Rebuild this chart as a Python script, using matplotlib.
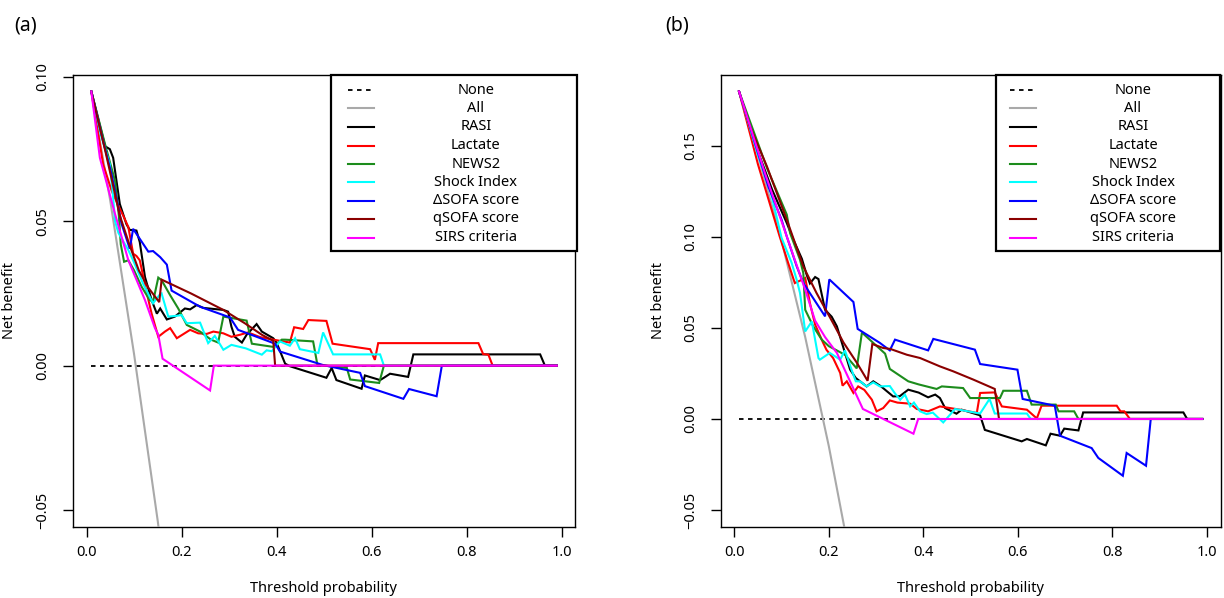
import matplotlib
matplotlib.use("Agg")
import matplotlib.pyplot as plt
from matplotlib.patches import Rectangle
from matplotlib.lines import Line2D

plt.rcParams['font.family'] = ['Noto Sans', 'DejaVu Sans']

# ---------------- data ----------------
SERIES = ["None", "All", "RASI", "Lactate", "NEWS2", "Shock Index",
          "ΔSOFA score", "qSOFA score", "SIRS criteria"]
COLORS = ["black", "#A9A9A9", "black", "#FF0000", "#1C8C1C", "#00FFFF",
          "#0000FF", "#8B0000", "#FF00FF"]

X_TICKS = [0.0, 0.2, 0.4, 0.6, 0.8, 1.0]
Y_TICKS_A = [-0.05, 0.00, 0.05, 0.10]
Y_TICKS_B = [-0.05, 0.00, 0.05, 0.10, 0.15]

# ---- panel (a) ----
A_NONE = [(0.01, 0.0), (0.99, 0.0)]
A_ALL = [(0.01, 0.095), (0.05, 0.057), (0.10, 0.004), (0.15, -0.054), (0.20, -0.120)]
A_RASI = [(0.01, 0.095), (0.039, 0.076), (0.049, 0.075), (0.056, 0.072), (0.063, 0.064),
          (0.070, 0.056), (0.084, 0.049), (0.091, 0.047), (0.098, 0.047), (0.105, 0.0468),
          (0.112, 0.0428), (0.123, 0.0307), (0.137, 0.0227), (0.148, 0.018), (0.155, 0.0198),
          (0.169, 0.016), (0.186, 0.017), (0.207, 0.0198), (0.218, 0.0195), (0.232, 0.021),
          (0.246, 0.020), (0.288, 0.0193), (0.298, 0.0187), (0.305, 0.0135), (0.312, 0.010),
          (0.327, 0.008), (0.337, 0.0107), (0.358, 0.0144), (0.369, 0.0118), (0.393, 0.0095),
          (0.400, 0.008), (0.418, 0.0007), (0.428, -0.0002), (0.505, -0.0042), (0.516, -0.0008),
          (0.526, -0.005), (0.579, -0.008), (0.586, -0.0034), (0.618, -0.005), (0.626, -0.0042),
          (0.639, -0.0028), (0.677, -0.0039), (0.688, 0.0039), (0.955, 0.0039), (0.965, 0.0),
          (0.99, 0.0)]
A_LACTATE = [(0.01, 0.095), (0.035, 0.0697), (0.053, 0.0605), (0.067, 0.0554), (0.077, 0.052),
             (0.088, 0.048), (0.098, 0.0388), (0.105, 0.038), (0.112, 0.0365), (0.127, 0.025),
             (0.137, 0.018), (0.151, 0.010), (0.165, 0.0118), (0.176, 0.013), (0.19, 0.0095),
             (0.218, 0.0124), (0.235, 0.0112), (0.253, 0.011), (0.267, 0.0118), (0.288, 0.0112),
             (0.305, 0.010), (0.323, 0.0107), (0.34, 0.0115), (0.365, 0.0099), (0.393, 0.009),
             (0.428, 0.008), (0.437, 0.0133), (0.456, 0.0127), (0.467, 0.0158), (0.505, 0.0155),
             (0.518, 0.0076), (0.597, 0.0057), (0.607, 0.002), (0.614, 0.0078), (0.825, 0.0078),
             (0.835, 0.004), (0.846, 0.0038), (0.855, 0.0), (0.99, 0.0)]
A_NEWS2 = [(0.01, 0.095), (0.04, 0.076), (0.06, 0.064), (0.068, 0.052), (0.072, 0.042),
           (0.079, 0.036), (0.088, 0.0365), (0.100, 0.033), (0.116, 0.0273), (0.133, 0.0227),
           (0.140, 0.0222), (0.151, 0.0305), (0.158, 0.0296), (0.176, 0.0244), (0.193, 0.0198),
           (0.211, 0.0141), (0.239, 0.0118), (0.262, 0.009), (0.277, 0.008), (0.288, 0.017),
           (0.337, 0.0156), (0.348, 0.0076), (0.393, 0.0065), (0.411, 0.009), (0.418, 0.009),
           (0.477, 0.0084), (0.486, 0.0003), (0.548, -0.0008), (0.555, -0.0048), (0.616, -0.006),
           (0.626, 0.0), (0.99, 0.0)]
A_SHOCK = [(0.01, 0.095), (0.03, 0.080), (0.049, 0.0697), (0.055, 0.060), (0.06, 0.050),
           (0.067, 0.046), (0.088, 0.040), (0.098, 0.0365), (0.12, 0.028), (0.14, 0.0216),
           (0.153, 0.0244), (0.158, 0.025), (0.172, 0.017), (0.186, 0.0172), (0.2, 0.0175),
           (0.211, 0.0147), (0.239, 0.0149), (0.256, 0.0078), (0.27, 0.0103), (0.288, 0.0055),
           (0.305, 0.0072), (0.335, 0.006), (0.369, 0.0038), (0.379, 0.0053), (0.39, 0.005),
           (0.407, 0.0084), (0.428, 0.0069), (0.439, 0.0095), (0.449, 0.0057), (0.488, 0.0044),
           (0.498, 0.0115), (0.519, 0.0039), (0.618, 0.0039), (0.626, 0.0), (0.99, 0.0)]
A_DSOFA = [(0.01, 0.095), (0.035, 0.0777), (0.053, 0.066), (0.063, 0.058), (0.074, 0.049),
           (0.091, 0.0405), (0.098, 0.0474), (0.13, 0.0395), (0.14, 0.0397), (0.155, 0.0376),
           (0.169, 0.035), (0.179, 0.026), (0.239, 0.0204), (0.302, 0.0167), (0.319, 0.0124),
           (0.397, 0.0076), (0.407, 0.0049), (0.498, 0.0002), (0.576, -0.0025), (0.586, -0.0071),
           (0.667, -0.0115), (0.679, -0.0081), (0.737, -0.0106), (0.748, 0.0), (0.99, 0.0)]
A_QSOFA = [(0.01, 0.095), (0.04, 0.074), (0.07, 0.052), (0.09, 0.042), (0.11, 0.033),
           (0.13, 0.027), (0.153, 0.022), (0.158, 0.0298), (0.22, 0.025), (0.288, 0.0193),
           (0.333, 0.0147), (0.369, 0.0107), (0.393, 0.0086), (0.397, 0.0), (0.99, 0.0)]
A_SIRS = [(0.01, 0.095), (0.028, 0.072), (0.06, 0.0525), (0.088, 0.0365), (0.123, 0.0227),
          (0.144, 0.013), (0.151, 0.0107), (0.16, 0.0024), (0.26, -0.0086), (0.268, 0.0),
          (0.99, 0.0)]

# ---- panel (b) ----
B_NONE = [(0.01, 0.0), (0.99, 0.0)]
B_ALL = [(0.01, 0.180), (0.05, 0.145), (0.10, 0.098), (0.15, 0.045), (0.20, -0.015), (0.25, -0.083)]
B_RASI = [(0.01, 0.18), (0.05, 0.147), (0.08, 0.126), (0.111, 0.1077), (0.125, 0.0985),
          (0.143, 0.088), (0.153, 0.0793), (0.160, 0.0745), (0.171, 0.078), (0.178, 0.0769),
          (0.192, 0.060), (0.206, 0.0562), (0.217, 0.0509), (0.231, 0.039), (0.245, 0.0271),
          (0.257, 0.0225), (0.28, 0.0179), (0.294, 0.0207), (0.31, 0.018), (0.336, 0.0124),
          (0.35, 0.0125), (0.368, 0.0161), (0.39, 0.0145), (0.41, 0.0119), (0.425, 0.0134),
          (0.435, 0.0115), (0.446, 0.006), (0.470, 0.0029), (0.481, 0.0051), (0.52, 0.002),
          (0.53, -0.006), (0.608, -0.0123), (0.619, -0.011), (0.659, -0.0145), (0.669, -0.0081),
          (0.689, -0.0092), (0.698, -0.0053), (0.728, -0.0063), (0.738, 0.0036), (0.95, 0.0036),
          (0.958, 0.0), (0.99, 0.0)]
B_LACTATE = [(0.01, 0.18), (0.05, 0.140), (0.096, 0.1003), (0.114, 0.0857), (0.128, 0.0747),
             (0.143, 0.0765), (0.150, 0.0775), (0.160, 0.0637), (0.171, 0.0518), (0.188, 0.0418),
             (0.195, 0.038), (0.209, 0.0335), (0.224, 0.0253), (0.229, 0.0183), (0.238, 0.0207),
             (0.252, 0.0143), (0.262, 0.0179), (0.275, 0.016), (0.291, 0.0106), (0.301, 0.0042),
             (0.315, 0.006), (0.329, 0.0102), (0.345, 0.009), (0.372, 0.0084), (0.386, 0.0055),
             (0.41, 0.0042), (0.435, 0.0069), (0.48, 0.005), (0.513, 0.0033), (0.52, 0.0143),
             (0.551, 0.0146), (0.566, 0.0069), (0.619, 0.0051), (0.64, 0.0003), (0.65, 0.0073),
             (0.809, 0.0073), (0.817, 0.0042), (0.825, 0.0042), (0.837, 0.0), (0.99, 0.0)]
B_NEWS2 = [(0.01, 0.18), (0.069, 0.138), (0.111, 0.1123), (0.118, 0.1022), (0.139, 0.0875),
           (0.146, 0.0802), (0.150, 0.060), (0.167, 0.0509), (0.185, 0.0436), (0.20, 0.040),
           (0.234, 0.0353), (0.259, 0.0278), (0.27, 0.0475), (0.319, 0.0359), (0.329, 0.0275),
           (0.368, 0.0207), (0.39, 0.019), (0.428, 0.0165), (0.439, 0.0179), (0.484, 0.017),
           (0.499, 0.0115), (0.562, 0.0115), (0.569, 0.0155), (0.619, 0.0155), (0.629, 0.0079),
           (0.68, 0.0079), (0.686, 0.0042), (0.719, 0.0042), (0.728, 0.0), (0.99, 0.0)]
B_SHOCK = [(0.01, 0.18), (0.05, 0.145), (0.076, 0.126), (0.10, 0.0995), (0.121, 0.086),
           (0.132, 0.0765), (0.139, 0.0692), (0.150, 0.0481), (0.164, 0.0536), (0.178, 0.0335),
           (0.181, 0.0326), (0.202, 0.0363), (0.224, 0.0326), (0.234, 0.0377), (0.248, 0.0271),
           (0.257, 0.0207), (0.266, 0.0207), (0.28, 0.0179), (0.294, 0.0201), (0.308, 0.0179),
           (0.329, 0.0181), (0.34, 0.014), (0.351, 0.0106), (0.361, 0.0134), (0.372, 0.0069),
           (0.38, 0.009), (0.393, 0.0042), (0.407, 0.0027), (0.42, 0.0035), (0.442, -0.0019),
           (0.467, 0.0055), (0.52, 0.003), (0.54, 0.011), (0.551, 0.003), (0.619, 0.003),
           (0.627, 0.0), (0.99, 0.0)]
B_DSOFA = [(0.01, 0.18), (0.072, 0.1278), (0.10, 0.1095), (0.111, 0.1003), (0.132, 0.0839),
           (0.146, 0.0747), (0.192, 0.0564), (0.201, 0.0767), (0.252, 0.0643), (0.261, 0.0495),
           (0.308, 0.0418), (0.329, 0.0377), (0.34, 0.0436), (0.41, 0.0377), (0.421, 0.044),
           (0.509, 0.0381), (0.52, 0.0302), (0.599, 0.0271), (0.61, 0.011), (0.678, 0.0073),
           (0.689, -0.0092), (0.756, -0.016), (0.77, -0.0214), (0.822, -0.0312), (0.83, -0.0187),
           (0.871, -0.0257), (0.881, 0.0), (0.99, 0.0)]
B_QSOFA = [(0.01, 0.18), (0.033, 0.1608), (0.069, 0.1388), (0.111, 0.1095), (0.146, 0.0838),
           (0.174, 0.0692), (0.209, 0.0527), (0.231, 0.042), (0.259, 0.031), (0.282, 0.021),
           (0.292, 0.0412), (0.315, 0.039), (0.33, 0.0385), (0.365, 0.0353), (0.393, 0.0335),
           (0.435, 0.0289), (0.463, 0.0262), (0.506, 0.0216), (0.551, 0.0165), (0.56, 0.0),
           (0.99, 0.0)]
B_SIRS = [(0.01, 0.18), (0.065, 0.135), (0.111, 0.1003), (0.15, 0.071), (0.171, 0.054),
          (0.192, 0.045), (0.217, 0.0363), (0.272, 0.0055), (0.379, -0.0081), (0.389, 0.0),
          (0.99, 0.0)]

PANEL_A = [A_NONE, A_ALL, A_RASI, A_LACTATE, A_NEWS2, A_SHOCK, A_DSOFA, A_QSOFA, A_SIRS]
PANEL_B = [B_NONE, B_ALL, B_RASI, B_LACTATE, B_NEWS2, B_SHOCK, B_DSOFA, B_QSOFA, B_SIRS]

# ---------------- figure ----------------
W, H = 1224, 598
fig = plt.figure(figsize=(W / 100, H / 100), dpi=100)
FS = 10.5


def px_axes(l, t, r, b):
    return fig.add_axes([l / W, 1 - b / H, (r - l) / W, (b - t) / H])


def fx(x):
    return x / W


def fy(y):
    return 1 - y / H


def draw_panel(ax, data, ylim, yticks):
    for i, (series, col) in enumerate(zip(data, COLORS)):
        xs = [p[0] for p in series]
        ys = [p[1] for p in series]
        if i == 0:
            ax.plot(xs, ys, color=col, lw=1.3, ls=(0, (2.5, 2.5)), zorder=2)
        else:
            ax.plot(xs, ys, color=col, lw=1.5, zorder=2 + i, solid_joinstyle='miter')
    ax.set_xlim(-0.0292, 1.0292)
    ax.set_ylim(*ylim)
    ax.set_xticks(X_TICKS)
    ax.set_xticklabels([f"{t:.1f}" for t in X_TICKS], fontsize=FS)
    ax.set_yticks(yticks)
    ax.set_yticklabels([f"{t:.2f}".replace("-", "\u2212") for t in yticks], fontsize=FS,
                       rotation=90, va='center')
    ax.tick_params(direction='out', length=7, width=1, color='black')
    ax.tick_params(axis='x', pad=6)
    ax.tick_params(axis='y', pad=9)
    for s in ax.spines.values():
        s.set_linewidth(1.0)
        s.set_color('black')


def draw_legend(box, line_x, text_cx, rows):
    l, t, r, b = box
    fig.add_artist(Rectangle((fx(l), fy(b)), fx(r) - fx(l), fy(t) - fy(b),
                             transform=fig.transFigure, fill=True, facecolor='white',
                             edgecolor='black', lw=1.6, zorder=20))
    for i, (name, col) in enumerate(zip(SERIES, COLORS)):
        y = rows[i]
        if i == 0:
            ln = Line2D([fx(line_x[0]), fx(line_x[1])], [fy(y), fy(y)], color=col, lw=1.3,
                        ls=(0, (2.5, 2.5)), transform=fig.transFigure, zorder=21)
        else:
            ln = Line2D([fx(line_x[0]), fx(line_x[1])], [fy(y), fy(y)], color=col, lw=1.5,
                        transform=fig.transFigure, zorder=21)
        fig.add_artist(ln)
        fig.text(fx(text_cx), fy(y), name, ha='center', va='center', fontsize=FS, zorder=22)


LEG_ROWS = [90, 108.5, 127, 145.5, 164, 182, 200.5, 219, 237.5]

# panel a
axA = px_axes(72.7, 74.7, 575.4, 526.7)
draw_panel(axA, PANEL_A, (-0.0558, 0.1008), Y_TICKS_A)
draw_legend((331, 75, 577, 251), (348, 374), 476, LEG_ROWS)

# panel b
axB = px_axes(720.5, 74.7, 1220.8, 526.7)
draw_panel(axB, PANEL_B, (-0.0592, 0.1892), Y_TICKS_B)
draw_legend((996, 75, 1220, 251), (1010, 1036), 1133, LEG_ROWS)

# axis titles & panel labels
for cx, ycx in [(324, 10), (970.6, 659)]:
    fig.text(fx(cx), fy(588), "Threshold probability", ha='center', va='center', fontsize=FS)
    fig.text(fx(ycx), fy(300.7), "Net benefit", ha='center', va='center', fontsize=FS,
             rotation=90)
fig.text(fx(26), fy(25), "(a)", ha='center', va='center', fontsize=14)
fig.text(fx(677), fy(25), "(b)", ha='center', va='center', fontsize=14)

fig.savefig("out.png", dpi=100)
